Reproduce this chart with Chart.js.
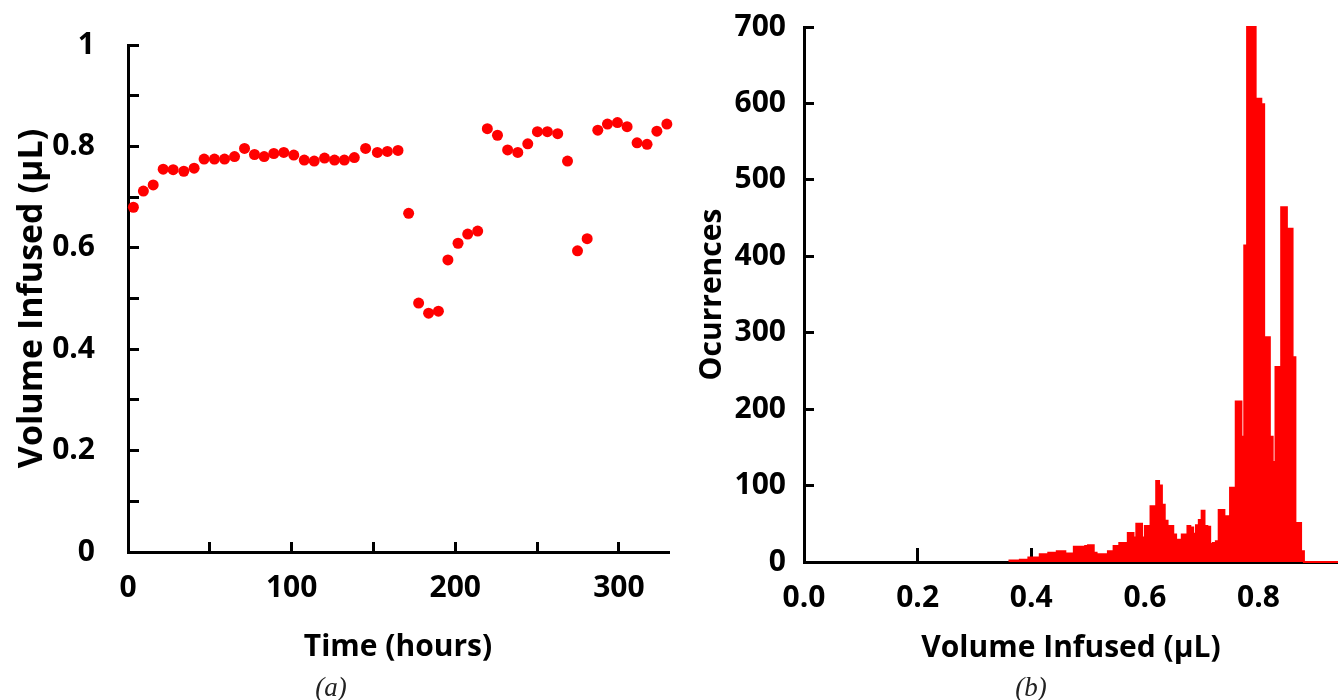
<!DOCTYPE html>
<html><head><meta charset="utf-8">
<script src="https://cdn.jsdelivr.net/npm/chart.js@4.4.1/dist/chart.umd.min.js"></script>
<style>
html,body{margin:0;padding:0;background:#fff;width:1338px;height:700px;overflow:hidden;}
#wrapA{position:absolute;left:0;top:0;width:690px;height:700px;}
#wrapB{position:absolute;left:690px;top:0;width:648px;height:700px;}
canvas{display:block;}
.cap{position:absolute;top:674px;font-family:'Liberation Serif',serif;font-style:italic;font-size:27px;color:#222;transform:translateX(-50%);line-height:1;}
</style></head><body>
<div id="wrapA"><canvas id="cA" width="690" height="700" style="width:690px;height:700px"></canvas></div>
<div id="wrapB"><canvas id="cB" width="648" height="700" style="width:648px;height:700px"></canvas></div>
<div class="cap" style="left:331px">(a)</div>
<div class="cap" style="left:1031px">(b)</div>
<script>
// ---- Panel (a): volume infused over time ----
const hours = [3.3, 9.4, 15.4, 21.5, 27.6, 34.1, 40.4, 46.5, 52.8, 59.0, 65.1, 71.2, 77.3, 83.2, 89.1, 95.2, 101.3, 107.7, 113.8, 120.1, 126.2, 132.2, 138.3, 145.2, 152.4, 158.5, 165.0,
  171.5, 177.6, 183.7, 189.7, 195.5, 201.7, 207.6, 213.7, 219.6, 225.8, 232.0, 238.2, 244.3, 250.2, 256.3, 262.6, 268.6, 274.7, 280.6, 287.1, 293.0, 299.1, 305.0, 311.1, 317.2, 323.2, 329.3];
const volumes = [0.680, 0.712, 0.724, 0.755, 0.754, 0.751, 0.757, 0.775, 0.775, 0.775, 0.780, 0.796, 0.784, 0.780, 0.786, 0.788, 0.783, 0.773, 0.771, 0.777, 0.773, 0.773, 0.778, 0.796, 0.788, 0.790, 0.792,
  0.668, 0.491, 0.471, 0.475, 0.576, 0.609, 0.627, 0.633, 0.835, 0.822, 0.793, 0.788, 0.805, 0.829, 0.829, 0.825, 0.771, 0.594, 0.618, 0.832, 0.844, 0.847, 0.839, 0.807, 0.804, 0.830, 0.844];
const xTickLabelsA = ['0', '100', '200', '300'];
const yTickLabelsA = ['0', '0.2', '0.4', '0.6', '0.8', '1'];

// ---- Panel (b): histogram of volume infused ----
const binStarts = [0.360, 0.365, 0.370, 0.375, 0.380, 0.385, 0.390, 0.395, 0.400, 0.405,
  0.410, 0.415, 0.420, 0.425, 0.430, 0.435, 0.440, 0.445, 0.450, 0.455,
  0.460, 0.465, 0.470, 0.475, 0.480, 0.485, 0.490, 0.495, 0.500, 0.505,
  0.510, 0.515, 0.520, 0.525, 0.530, 0.535, 0.540, 0.545, 0.550, 0.555,
  0.560, 0.565, 0.570, 0.575, 0.580, 0.585, 0.590, 0.595, 0.600, 0.605,
  0.610, 0.615, 0.620, 0.625, 0.630, 0.635, 0.640, 0.645, 0.650, 0.655,
  0.660, 0.665, 0.670, 0.675, 0.680, 0.685, 0.690, 0.695, 0.700, 0.705,
  0.710, 0.715, 0.720, 0.725, 0.730, 0.735, 0.740, 0.745, 0.750, 0.755,
  0.760, 0.765, 0.770, 0.775, 0.780, 0.785, 0.790, 0.795, 0.800, 0.805,
  0.810, 0.815, 0.820, 0.825, 0.830, 0.835, 0.840, 0.845, 0.850, 0.855,
  0.860, 0.865, 0.870, 0.875, 0.880, 0.885, 0.890, 0.895, 0.900, 0.905,
  0.910, 0.915, 0.920, 0.925, 0.930, 0.935];
const binEnd = 0.940;
const occurrences = [2, 2, 2, 2, 3, 3, 3, 6, 6, 6,
  6, 10, 10, 10, 12, 12, 12, 14, 14, 14,
  11, 11, 11, 20, 20, 20, 20, 21, 22, 22,
  12, 10, 10, 10, 10, 14, 14, 21, 21, 25,
  25, 25, 38, 38, 32, 50, 50, 32, 47, 47,
  73, 73, 106, 100, 75, 54, 47, 47, 36, 29,
  29, 36, 36, 47, 45, 37, 48, 55, 67, 47,
  46, 24, 25, 27, 68, 68, 60, 60, 97, 97,
  210, 210, 164, 414, 700, 700, 700, 606, 606, 599,
  294, 294, 164, 131, 255, 255, 464, 464, 436, 436,
  268, 51, 51, 14, 0, 0, 0, 0, 0, 0,
  0, 0, 0, 0, 0, 0];
const xTickLabelsB = ['0.0', '0.2', '0.4', '0.6', '0.8'];
const yTickLabelsB = ['0', '100', '200', '300', '400', '500', '600', '700'];

Chart.defaults.font.family = "'Open Sans', sans-serif";
Chart.defaults.font.weight = 'bold';
Chart.defaults.font.size = 30;
Chart.defaults.color = '#000';
Chart.defaults.animation = false;

function axisCommon(tickLen) {
  return {
    border: { display: true, color: '#000', width: 3 },
    grid: { display: true, drawOnChartArea: false, drawTicks: true, tickLength: tickLen, color: '#000', lineWidth: 3 }
  };
}
// draws tick labels at the chart's own scale pixel positions
const tickLabelPlugin = {
  id: 'tickLabels',
  afterDraw(chart, args, o) {
    const sx = chart.scales.x, sy = chart.scales.y, ctx = chart.ctx;
    ctx.save();
    ctx.font = "bold 30px 'Open Sans', sans-serif";
    ctx.fillStyle = '#000';
    ctx.textBaseline = 'middle';
    ctx.textAlign = 'center';
    o.xLabels.forEach(l => ctx.fillText(l, sx.getPixelForValue(parseFloat(l)), sx.top + o.xOffset));
    ctx.textAlign = 'right';
    o.yLabels.forEach(l => ctx.fillText(l, sy.right - o.yGap, sy.getPixelForValue(parseFloat(l))));
    ctx.restore();
  }
};

new Chart(document.getElementById('cA'), {
  type: 'scatter',
  data: { datasets: [{
    data: hours.map((h, i) => ({ x: h, y: volumes[i] })),
    backgroundColor: '#ff0000', borderWidth: 0, pointRadius: 5.5, clip: false
  }]},
  plugins: [tickLabelPlugin],
  options: {
    responsive: false,
    layout: { padding: { left: 0, top: 45, right: 22, bottom: 0 } },
    plugins: { legend: { display: false }, tooltip: { enabled: false },
      tickLabels: { xLabels: xTickLabelsA, xOffset: 36, yLabels: yTickLabelsA, yGap: 33 } },
    scales: {
      x: Object.assign(axisCommon(-10), {
        type: 'linear', min: 0, max: 330,
        ticks: { display: false, stepSize: 50, includeBounds: false, autoSkip: false },
        title: { display: true, text: 'Time (hours)', padding: { top: 0, bottom: 35 } },
        afterFit: s => { s.height = 148; }
      }),
      y: Object.assign(axisCommon(-11), {
        type: 'linear', min: 0, max: 1,
        ticks: { display: false, stepSize: 0.1, includeBounds: false, autoSkip: false },
        title: { display: true, text: 'Volume Infused (µL)', font: { size: 34 }, padding: { top: 12, bottom: 0 } },
        afterFit: s => { s.width = 128; }
      })
    }
  }
});

const histData = binStarts.map((x, i) => ({ x: x, y: occurrences[i] }));
histData.push({ x: binEnd, y: 0 });

new Chart(document.getElementById('cB'), {
  type: 'line',
  data: { datasets: [{
    data: histData,
    stepped: 'before',
    borderColor: '#ff0000', backgroundColor: '#ff0000', borderWidth: 2,
    fill: 'origin', pointRadius: 0, tension: 0, clip: false
  }]},
  plugins: [tickLabelPlugin],
  options: {
    responsive: false,
    layout: { padding: { left: 0, top: 27, right: 0, bottom: 0 } },
    plugins: { legend: { display: false }, tooltip: { enabled: false },
      tickLabels: { xLabels: xTickLabelsB, xOffset: 36, yLabels: yTickLabelsB, yGap: 18 } },
    scales: {
      x: Object.assign(axisCommon(-14), {
        type: 'linear', min: 0, max: binEnd,
        ticks: { display: false, stepSize: 0.2, includeBounds: false, autoSkip: false },
        title: { display: true, text: 'Volume Infused (µL)', padding: { top: 0, bottom: 34 } },
        afterFit: s => { s.height = 138; }
      }),
      y: Object.assign(axisCommon(-10), {
        type: 'linear', min: 0, max: 700,
        ticks: { display: false, stepSize: 100, includeBounds: false, autoSkip: false },
        title: { display: true, text: 'Ocurrences', padding: { top: 4, bottom: 0 } },
        afterFit: s => { s.width = 114; }
      })
    }
  }
});
</script>
</body></html>
